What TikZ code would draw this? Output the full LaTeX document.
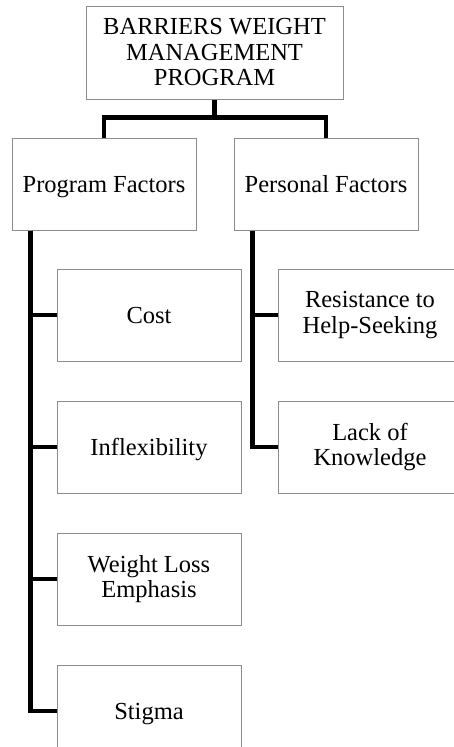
\documentclass[tikz,border=0pt]{standalone}
\usepackage{fontspec}
\setmainfont{Liberation Serif}
\usetikzlibrary{positioning, calc}
\tikzstyle{topBox} = [rectangle, minimum width=257pt, minimum height=93pt, text centered, align=center, draw=black!45, line width=1pt, fill=white]
\tikzstyle{factorBox} = [rectangle, minimum width=184pt, minimum height=92pt, text centered, align=center, draw=black!45, line width=1pt, fill=white]
\tikzstyle{childBox} = [factorBox]
\tikzstyle{oneLine} = [text height=18pt, text depth=2pt]
\tikzstyle{branchLine} = [line width=4.5pt, black]

\begin{document}
\begin{tikzpicture}[node distance=38pt, font=\fontsize{24.5}{25.5}\selectfont]
    \useasboundingbox (0,0) rectangle (454pt,-747pt);

    \node (barrierTop) [topBox] at (214.5pt,-52.5pt) {BARRIERS WEIGHT\\MANAGEMENT\\PROGRAM};
    \node (progFactors) [factorBox, oneLine, below = of barrierTop, xshift=-110.5pt] {Program Factors};
    \node (persFactors) [factorBox, oneLine, below = of barrierTop, xshift=111.5pt] {Personal Factors};

    % program factors
    \node (cost) [childBox, oneLine, below right = 38pt and 45pt of progFactors.south west] {Cost};
    \node (inflex) [childBox, oneLine, below = 39pt of cost] {Inflexibility};
    \node (lossEmph) [childBox, below = 39pt of inflex] {Weight Loss\\Emphasis};
    \node (stigma) [childBox, oneLine, below = 39pt of lossEmph] {Stigma};

    % personal factors
    \node (resist) [childBox, below right = 38pt and 44pt of persFactors.south west] {Resistance to\\Help-Seeking};
    \node (lackKnow) [childBox, below = 39pt of resist] {Lack of\\Knowledge};

    % connectors
    \coordinate [below = 18pt of barrierTop.south] (topJoin);
    \draw [branchLine] (barrierTop.south) -- (topJoin) -| (progFactors.north);
    \draw [branchLine] (topJoin) -| (persFactors.north);

    \coordinate (progSpine) at ($(progFactors.south west)+(19pt,0)$);
    \coordinate (persSpine) at ($(persFactors.south west)+(19pt,0)$);
    \foreach \kid in {cost,inflex,lossEmph,stigma} {
        \draw [branchLine] (progSpine) |- (\kid.west);
    }
    \foreach \kid in {resist,lackKnow} {
        \draw [branchLine] (persSpine) |- (\kid.west);
    }

\end{tikzpicture}
\end{document}
